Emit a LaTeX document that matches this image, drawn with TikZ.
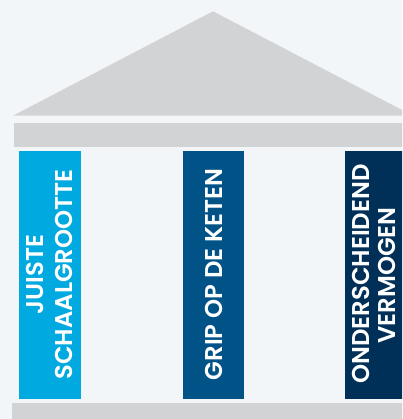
\documentclass[tikz,border=0pt]{standalone}
\usepackage{fontspec}
\setmainfont{Poppins}[BoldFont={Poppins SemiBold}]
\definecolor{bgc}{HTML}{F3F6F9}
\definecolor{greyc}{HTML}{D2D3D5}
\definecolor{colA}{HTML}{00A9DF}
\definecolor{colB}{HTML}{005287}
\definecolor{colC}{HTML}{003057}
\begin{document}
\begin{tikzpicture}[x=1pt,y=-1pt,
  pillartext/.style={rotate=90,anchor=base,text=white,inner sep=0pt,
    font=\fontsize{24.3}{29}\selectfont\bfseries}]
\useasboundingbox (0,0) rectangle (402,419);
\fill[bgc] (0,0) rectangle (402,419);
\begin{scope}
\clip (0,0) rectangle (402,419);
% roof
\fill[greyc] (13,115.7) -- (213,11.3) -- (413,115.7) -- cycle;
% beam
\fill[greyc] (14,123) rectangle (410,147);
% columns
\fill[colA] (19,151) rectangle (81,399);
\fill[colB] (182.7,151) rectangle (244,399);
\fill[colC] (344.7,151) rectangle (406,399);
% base
\fill[greyc] (12,403) rectangle (410,425);
\end{scope}
\node[pillartext] (a1) at (43.5,274.5) {JUISTE};
\node[pillartext] (a2) at (72.5,274.5) {SCHAALGROOTTE};
\node[pillartext] (b1) at (222.5,274.5) {GRIP OP DE KETEN};
\node[pillartext] (c1) at (369,274) {ONDERSCHEIDEND};
\node[pillartext] (c2) at (395.5,275.5) {VERMOGEN};
\end{tikzpicture}
\end{document}
